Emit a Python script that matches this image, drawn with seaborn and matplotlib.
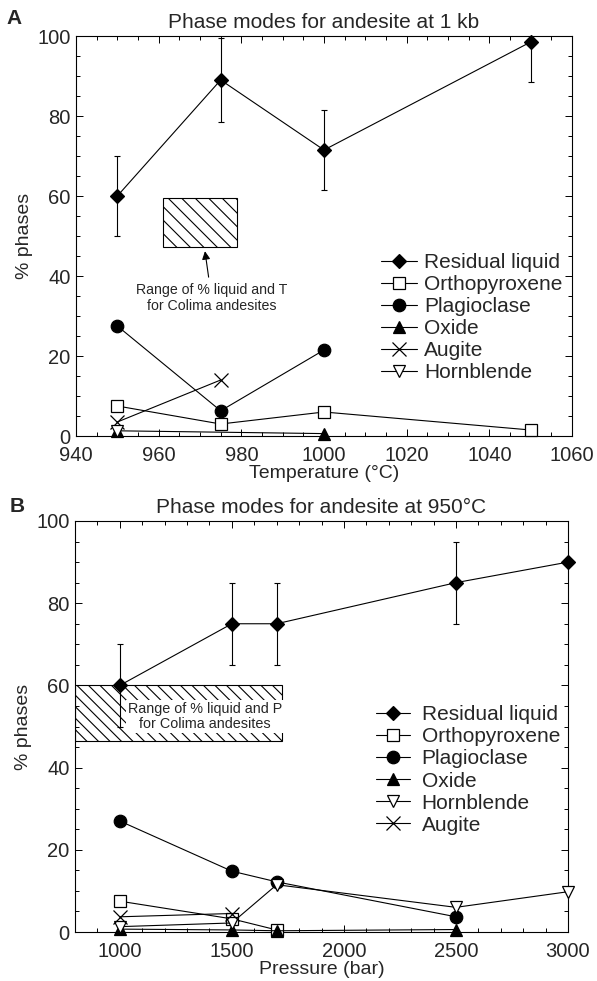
import numpy as np
import pandas as pd
import matplotlib
matplotlib.use("Agg")
import matplotlib.pyplot as plt
from matplotlib.patches import Rectangle
from matplotlib.collections import LineCollection
from matplotlib.transforms import IdentityTransform
from matplotlib.ticker import MultipleLocator
import seaborn as sns

# ---------------- data: panel A (1 kb, vs temperature) ----------------
a_liq_T = [950, 975, 1000, 1050]
a_liq = [60, 89, 71.5, 98.5]
a_liq_err = [10, 10.5, 10, 10]
a_opx_T = [950, 975, 1000, 1050]
a_opx = [7.5, 3.0, 6.0, 1.5]
a_plag_T = [950, 975, 1000]
a_plag = [27.5, 6.3, 21.5]
a_oxide_T = [950, 1000]
a_oxide = [1.3, 0.6]
a_aug_T = [950, 975]
a_aug = [3.5, 14]
a_hbl_T = [950]
a_hbl = [1.3]
a_box_T = [961, 979]
a_box_pct = [47.3, 59.6]

# ---------------- data: panel B (950 C, vs pressure) ----------------
b_liq_P = [1000, 1500, 1700, 2500, 3000]
b_liq = [60, 75, 75, 85, 90]
b_liq_err = [10, 10, 10, 10, np.nan]
b_opx_P = [1000, 1500, 1700]
b_opx = [7.5, 3.2, 0.5]
b_plag_P = [1000, 1500, 1700, 2500]
b_plag = [27, 14.8, 12.2, 3.7]
b_oxide_P = [1000, 1500, 1700, 2500]
b_oxide = [0.7, 0.5, 0.3, 0.6]
b_hbl_P = [1000, 1500, 1700, 2500, 3000]
b_hbl = [1.3, 2.2, 11.5, 6.0, 9.8]
b_aug_P = [1000, 1500]
b_aug = [3.7, 4.5]
b_box_P = [800, 1725]
b_box_pct = [46.5, 60]

sns.set_theme(style="ticks")
plt.rcParams['font.family'] = ['Liberation Sans', 'DejaVu Sans']
plt.rcParams['axes.linewidth'] = 0.8

W, H = 597, 981
fig = plt.figure(figsize=(W / 100, H / 100), dpi=100)
ax1 = fig.add_axes([76 / W, 1 - 436 / H, (572 - 76) / W, (436 - 36) / H])
ax2 = fig.add_axes([75 / W, 1 - 932 / H, (568 - 75) / W, (932 - 521) / H])

LW = 0.8
styles = {
    'Residual liquid': dict(marker='D', ms=7.0, mfc='black'),
    'Orthopyroxene': dict(marker='s', ms=8.0, mfc='white'),
    'Plagioclase': dict(marker='o', ms=9.0, mfc='black'),
    'Oxide': dict(marker='^', ms=8.0, mfc='black'),
    'Augite': dict(marker='x', ms=10.0, mfc='none'),
    'Hornblende': dict(marker='v', ms=9.0, mfc='white'),
}


def series(ax, x, y, name):
    st = styles[name]
    sns.lineplot(x=x, y=y, ax=ax, color='black', lw=LW, marker=st['marker'],
                 ms=st['ms'], mfc=st['mfc'], mec='black', mew=0.9,
                 label=name, sort=False, estimator=None, zorder=3,
                 clip_on=False)


def hatch_box(ax, xs, ys, spacing=13.0):
    rect = Rectangle((xs[0], ys[0]), xs[1] - xs[0], ys[1] - ys[0],
                     facecolor='none', edgecolor='black', lw=LW, zorder=1)
    ax.add_patch(rect)
    (px0, py0), (px1, py1) = ax.transData.transform([(xs[0], ys[0]), (xs[1], ys[1])])
    segs = []
    c = px0 + py0
    while c < px1 + py1 + spacing:
        segs.append([(px0 - 50, c - px0 + 50), (px1 + 50, c - px1 - 50)])
        c += spacing
    lc = LineCollection(segs, colors='black', linewidths=0.8,
                        transform=IdentityTransform(), zorder=1)
    ax.add_collection(lc, autolim=False)
    lc.set_clip_path(rect)
    return rect


def style_axes(ax):
    ax.tick_params(which='both', direction='in', top=True, right=True,
                   labelsize=14.5, width=0.7, color='black')
    ax.tick_params(axis='y', pad=4)
    ax.tick_params(axis='x', pad=7)
    ax.tick_params(which='major', length=5)
    ax.tick_params(which='minor', length=3)
    for s in ax.spines.values():
        s.set_color('black')
        s.set_linewidth(LW)
    ax.yaxis.set_major_locator(MultipleLocator(20))
    ax.yaxis.set_minor_locator(MultipleLocator(5))
    ax.set_ylabel('% phases', fontsize=14, labelpad=3)


# ---------------- panel A ----------------
ax1.set_xlim(940, 1060)
ax1.set_ylim(0, 100)
ax1.errorbar(a_liq_T, a_liq, yerr=a_liq_err, fmt='none', ecolor='black',
             elinewidth=0.8, capsize=2.5, capthick=0.8, zorder=2)
series(ax1, a_liq_T, a_liq, 'Residual liquid')
series(ax1, a_opx_T, a_opx, 'Orthopyroxene')
series(ax1, a_plag_T, a_plag, 'Plagioclase')
series(ax1, a_oxide_T, a_oxide, 'Oxide')
series(ax1, a_aug_T, a_aug, 'Augite')
series(ax1, a_hbl_T, a_hbl, 'Hornblende')
style_axes(ax1)
ax1.xaxis.set_major_locator(MultipleLocator(20))
ax1.xaxis.set_minor_locator(MultipleLocator(5))
ax1.set_xlabel('Temperature (°C)', fontsize=14, labelpad=0)
ax1.set_title('Phase modes for andesite at 1 kb', fontsize=15, pad=6)
hatch_box(ax1, a_box_T, a_box_pct, spacing=13.5)
ax1.annotate('Range of % liquid and T\nfor Colima andesites',
             xy=(971.2, 46.2), xytext=(972.8, 34.5), ha='center', va='center',
             fontsize=10.2, linespacing=1.15,
             arrowprops=dict(arrowstyle='-|>', color='black', lw=0.8,
                             mutation_scale=12, shrinkA=2, shrinkB=0))
ax1.legend(loc='upper left', bbox_to_anchor=(0.614, 0.458), frameon=False,
           fontsize=15, borderpad=0, borderaxespad=0, labelspacing=0.15,
           handlelength=1.75, handletextpad=0.35, handleheight=0.7)

# ---------------- panel B ----------------
ax2.set_xlim(800, 3000)
ax2.set_ylim(0, 100)
mask = ~np.isnan(np.array(b_liq_err))
ax2.errorbar(np.array(b_liq_P)[mask], np.array(b_liq)[mask],
             yerr=np.array(b_liq_err)[mask], fmt='none', ecolor='black',
             elinewidth=0.8, capsize=2.5, capthick=0.8, zorder=2.5)
series(ax2, b_liq_P, b_liq, 'Residual liquid')
series(ax2, b_opx_P, b_opx, 'Orthopyroxene')
series(ax2, b_plag_P, b_plag, 'Plagioclase')
series(ax2, b_oxide_P, b_oxide, 'Oxide')
series(ax2, b_hbl_P, b_hbl, 'Hornblende')
series(ax2, b_aug_P, b_aug, 'Augite')
style_axes(ax2)
ax2.xaxis.set_major_locator(MultipleLocator(500))
ax2.xaxis.set_minor_locator(MultipleLocator(100))
ax2.set_xlabel('Pressure (bar)', fontsize=14, labelpad=0)
ax2.set_title('Phase modes for andesite at 950°C', fontsize=15, pad=6)
hatch_box(ax2, b_box_P, b_box_pct, spacing=11.5)
ax2.text(1380, 52.4, 'Range of % liquid and P\nfor Colima andesites',
         ha='center', va='center', fontsize=10.4, linespacing=1.15, zorder=2,
         bbox=dict(facecolor='white', edgecolor='none', pad=1.5))
ax2.legend(loc='upper left', bbox_to_anchor=(0.61, 0.552), frameon=False,
           fontsize=15, borderpad=0, borderaxespad=0, labelspacing=0.15,
           handlelength=1.65, handletextpad=0.55, handleheight=0.7)

fig.text(14 / W, 1 - 18 / H, 'A', fontsize=15, fontweight='bold',
         ha='center', va='center')
fig.text(17 / W, 1 - 506 / H, 'B', fontsize=15, fontweight='bold',
         ha='center', va='center')

fig.savefig('out.png', dpi=100, facecolor='white')
